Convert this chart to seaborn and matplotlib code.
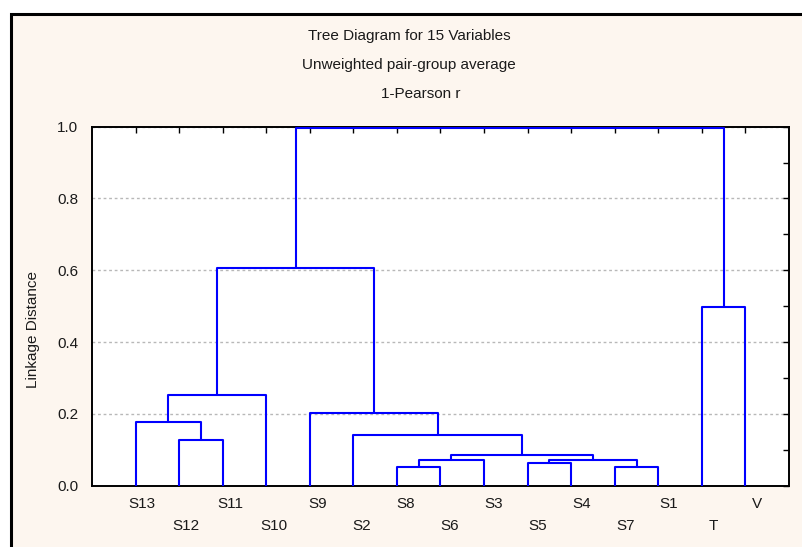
import numpy as np
import pandas as pd
import matplotlib
matplotlib.use("Agg")
import matplotlib.pyplot as plt
import matplotlib.transforms as mtransforms
from matplotlib.patches import Rectangle
from matplotlib.ticker import MultipleLocator
import seaborn as sns

# ---- data ----
leaves = ["S13", "S12", "S11", "S10", "S9", "S2", "S8", "S6", "S3",
          "S5", "S4", "S7", "S1", "T", "V"]
# merge i creates cluster "C{i}"
merge_left = ["S12", "S13", "C1", "S8", "C3", "S5", "S7", "C5", "C4",
              "S2", "S9", "C2", "T", "C11"]
merge_right = ["S11", "C0", "S10", "S6", "S3", "S4", "S1", "C6", "C7",
               "C8", "C9", "C10", "V", "C12"]
merge_height = [0.128, 0.177, 0.253, 0.053, 0.072, 0.063, 0.051, 0.071,
                0.086, 0.142, 0.203, 0.607, 0.499, 0.995]
title_lines = ["Tree Diagram for 15 Variables",
               "Unweighted pair-group average",
               "1-Pearson r"]
y_label = "Linkage Distance"

# ---- build dendrogram segments ----
pos = {name: i + 1 for i, name in enumerate(leaves)}
hgt = {name: 0.0 for name in leaves}
rows = []
for i, (a, b, h) in enumerate(zip(merge_left, merge_right, merge_height)):
    xa, xb = pos[a], pos[b]
    pts = [(xa, hgt[a]), (xa, h), (xb, h), (xb, hgt[b])]
    for k, (x, y) in enumerate(pts):
        rows.append({"seg": i, "k": k, "x": x, "y": y})
    pos[f"C{i}"] = (xa + xb) / 2
    hgt[f"C{i}"] = h
df = pd.DataFrame(rows)

# ---- style ----
sns.set_theme(style="white")
plt.rcParams["font.family"] = ["Liberation Sans", "DejaVu Sans"]
plt.rcParams["font.size"] = 11

W, H = 803, 547
fig = plt.figure(figsize=(W / 100, H / 100), dpi=100)
fig.patch.set_facecolor("white")
fig.patches.append(Rectangle((11 / W, -0.1), 1.2, 1.1 - 14 / H,
                             transform=fig.transFigure, facecolor="#fdf6ef",
                             edgecolor="black", lw=2.2, zorder=-10))

ax = fig.add_axes([92 / W, 1 - 485.7 / H, (789 - 92) / W, (485.7 - 126.7) / H])
ax.set_facecolor("white")

sns.lineplot(data=df, x="x", y="y", units="seg", estimator=None, sort=False,
             color="#0000ff", lw=1.5, ax=ax, legend=False, zorder=3)

ax.set_xlim(0, len(leaves) + 1)
ax.set_ylim(0, 1.0)
ax.set_xlabel("")
ax.set_ylabel("")

for s in ax.spines.values():
    s.set_color("black")
    s.set_linewidth(1.4)
    s.set_visible(True)

ax.yaxis.set_major_locator(MultipleLocator(0.2))
ax.yaxis.set_minor_locator(MultipleLocator(0.1))
ax.set_yticklabels([f"{v:.1f}" for v in ax.get_yticks()])
ax.set_xticks(range(1, len(leaves) + 1))
ax.set_xticklabels(leaves)

ax.tick_params(axis="both", which="both", direction="in", length=4, width=1,
               color="black", top=True, right=True, labelcolor="#1a1a1a",
               labelsize=11)
ax.tick_params(axis="y", which="major", pad=10)
ax.yaxis.grid(True, which="major", color="#b8b8b8", lw=1, ls=(0, (2, 2)))
ax.xaxis.grid(False)

# staggered leaf labels
for i, tick in enumerate(ax.xaxis.get_major_ticks()):
    tick.set_pad(8.0 if i % 2 == 0 else 24.0)
for i, lab in enumerate(ax.get_xticklabels()):
    dx = (6.5 + 0.36 * i) / 100
    lab.set_transform(lab.get_transform() +
                      mtransforms.ScaledTranslation(dx, 0, fig.dpi_scale_trans))

# titles
fig.text(409 / W, 1 - 40 / H, title_lines[0], ha="center", va="baseline",
         fontsize=11, color="#1a1a1a")
fig.text(409 / W, 1 - 69 / H, title_lines[1], ha="center", va="baseline",
         fontsize=11, color="#1a1a1a")
fig.text(421 / W, 1 - 97.5 / H, title_lines[2], ha="center", va="baseline",
         fontsize=11, color="#1a1a1a")
fig.text(32.5 / W, 1 - 330 / H, y_label, rotation=90, ha="center",
         va="center", fontsize=11, color="#1a1a1a")

fig.savefig("out.png", dpi=100)
